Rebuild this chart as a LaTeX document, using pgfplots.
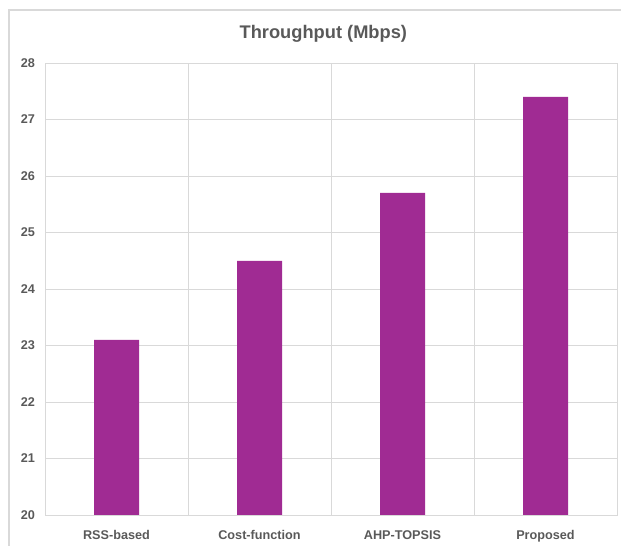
\documentclass[border=0pt]{standalone}
\usepackage{pgfplots}
\pgfplotsset{compat=1.18}
\usepackage{fontspec}
\setmainfont{Liberation Sans}
\definecolor{barc}{RGB}{160,43,147}
\definecolor{gridc}{RGB}{217,217,217}
\definecolor{txtc}{RGB}{89,89,89}
\begin{document}
\begin{tikzpicture}
\useasboundingbox (0,0) rectangle (465.75pt,409.5pt);
\draw[gridc, line width=0.8pt] (6.75pt,0) -- (6.75pt,402pt) -- (465.75pt,402pt);
\node[txtc, font=\fontsize{13.7}{15}\selectfont\bfseries] at (242.5pt,384pt) {Throughput (Mbps)};
\begin{axis}[
  at={(33.75pt,23.25pt)}, anchor=south west,
  scale only axis, width=429pt, height=339pt,
  xmin=-0.5, xmax=3.5, ymin=20, ymax=28,
  xtick={0,1,2,3},
  xticklabels={RSS-based,Cost-function,AHP-TOPSIS,Proposed},
  minor xtick={0.5,1.5,2.5},
  ytick={20,21,...,28},
  xminorgrids, ymajorgrids,
  grid style={gridc, line width=0.6pt},
  minor grid style={gridc, line width=0.6pt},
  axis line style={gridc, line width=0.6pt},
  major tick length=0pt, minor tick length=0pt,
  tick style={draw=none},
  /pgf/number format/assume math mode=true,
  ticklabel style={txtc, font=\fontsize{9.5}{11}\selectfont\bfseries},
  yticklabel style={xshift=-4pt},
  xticklabel style={yshift=-8pt},
]
\addplot[ybar, bar width=33.75pt, fill=barc, draw=none] coordinates {
  (0,23.1) (1,24.5) (2,25.7) (3,27.4)
};
\end{axis}
\end{tikzpicture}
\end{document}
